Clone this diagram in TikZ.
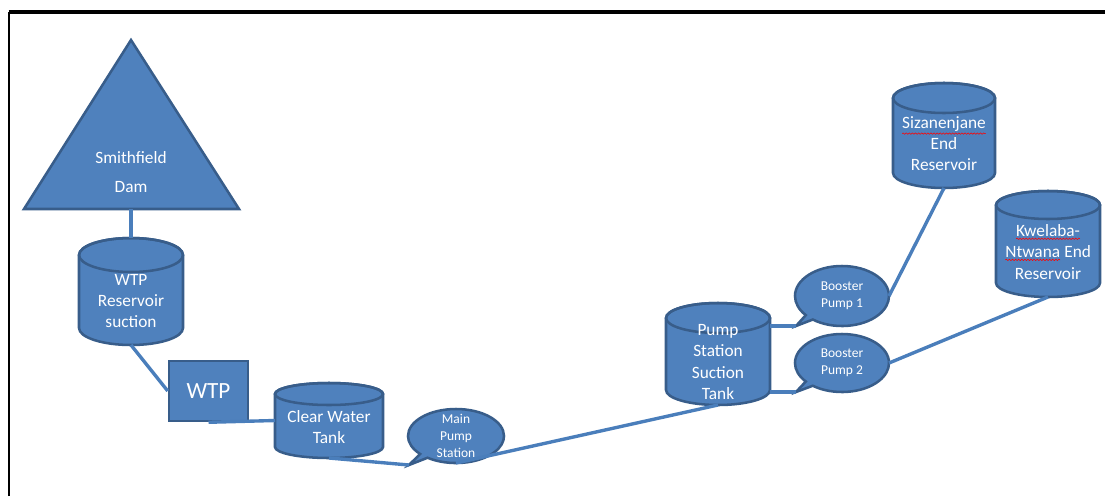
\documentclass[tikz,border=0pt]{standalone}
\usepackage{fontspec}
\setmainfont{Carlito}
\usepackage{tikz}
\usetikzlibrary{shapes.callouts,calc,decorations.pathmorphing}

\definecolor{tankfill}{HTML}{4F81BD}
\definecolor{tankedge}{HTML}{385D8A}
\definecolor{pipe}{HTML}{4A7EBB}

\newcommand\spellwave[1]{\tikz[baseline=(w.base)]{\node[inner sep=0pt,outer sep=0pt,text=white] (w) {#1};
  \draw[red,line width=0.4pt,decorate,decoration={snake,amplitude=0.5pt,segment length=2.2pt}]
    ([yshift=-1.3pt]w.south west) -- ([yshift=-1.3pt]w.south east);}}

\tikzset{
  tankline/.style={fill=tankfill,draw=tankedge,line width=1.8pt},
  pipeline/.style={draw=pipe,line width=2.4pt},
  tanktext/.style={text=white,font=\fontsize{12.3}{15}\selectfont,align=center,inner sep=0pt},
  pumptext/.style={text=white,font=\fontsize{9.6}{12}\selectfont,align=center,inner sep=0pt},
  pumpcall/.style={ellipse callout,tankline,inner sep=0pt,outer sep=0pt,callout pointer arc=12},
}

% tank: name, x, top, bottom, half width, lid radius, text y, text
\newcommand\tank[8]{%
  \draw[tankline] ({#2-#5},{#3+#6}) -- ({#2-#5},{#4-#6})
    arc[start angle=180,end angle=0,x radius=#5,y radius=#6] -- ({#2+#5},{#3+#6})
    arc[start angle=0,end angle=-180,x radius=#5,y radius=#6] -- cycle;
  \draw[tankline,fill=none] (#2,{#3+#6}) ellipse[x radius=#5,y radius=#6];
  \node[minimum width={2*#5*0.025cm},minimum height={(#4-#3)*0.025cm},inner sep=0pt,outer sep=0pt] (#1) at (#2,{(#3+#4)/2}) {};
  \node[tanktext] at (#2,#7) {#8};
}

\begin{document}
\begin{tikzpicture}[x=0.025cm,y=-0.025cm]
\useasboundingbox (0,0) rectangle (1105,496);
\draw[line width=1.8pt] (9,496) -- (9,12);
\draw[line width=2.4pt] (8.5,12) -- (1105,12);

% dam
\draw[tankline] (131,40) -- (239,209) -- (24,209) -- cycle;
\node[tanktext,font=\fontsize{12.3}{20}\selectfont] (dam) at (131,172) {Smithfield\\Dam};
\coordinate (dambase) at (131,209);

% tanks
\tank{wres}{131}{238}{345}{52}{17}{301}{WTP\\Reservoir\\suction}
\tank{cwt}{329}{383}{458}{54}{11}{427}{Clear Water\\Tank}
\tank{pst}{718}{303}{405}{52}{15}{362}{Pump\\Station\\Suction\\Tank}
\tank{szr}{944}{83}{188}{51}{15}{144}{\spellwave{Sizanenjane}\\End\\Reservoir}
\tank{kwr}{1048}{191}{297}{52}{14}{252}{\spellwave{Kwelaba-}\\\spellwave{Ntwana} End\\Reservoir}

% treatment works
\node[tankline,minimum width=1.975cm,minimum height=1.5cm,text=white,font=\fontsize{16.5}{20}\selectfont] (wtp) at (208.5,391) {WTP};

% pumps
\node[pumpcall,minimum width=2.4cm,minimum height=1.35cm,callout absolute pointer={(409,465)},
  label={[pumptext]center:{Main\\Pump\\Station}}] (mps) at (456,436) {};
\node[pumpcall,minimum width=2.35cm,minimum height=1.5cm,callout absolute pointer={(796,326)},
  label={[pumptext]center:{Booster\\Pump 1}}] (bp1) at (842,296) {};
\node[pumpcall,minimum width=2.35cm,minimum height=1.45cm,callout absolute pointer={(796,392)},
  label={[pumptext]center:{Booster\\Pump 2}}] (bp2) at (842,363) {};

% pipes
\draw[pipeline] (dambase) -- (wres.north);
\draw[pipeline] (wres.south) -- (wtp.west);
\draw[pipeline] (wtp.south) -- (cwt.west);
\draw[pipeline] (cwt.south) -- (mps.pointer);
\draw[pipeline] (mps.south) -- (pst.south);
\draw[pipeline] (pst.east |- bp1.pointer) -- (bp1.pointer);
\draw[pipeline] (pst.east |- bp2.pointer) -- (bp2.pointer);
\draw[pipeline] (bp1.east) -- (szr.south);
\draw[pipeline] (bp2.east) -- (kwr.south);
\end{tikzpicture}
\end{document}
